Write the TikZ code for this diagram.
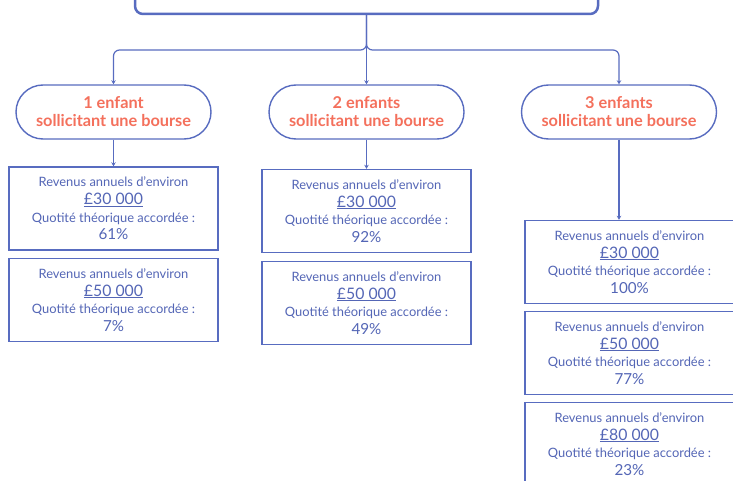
\documentclass[tikz,border=0pt]{standalone}
\usepackage{fontspec}
\setmainfont{Lato}
\usetikzlibrary{positioning,arrows.meta}
\definecolor{lineblue}{RGB}{88,108,192}
\definecolor{textblue}{RGB}{84,102,182}
\definecolor{salmon}{RGB}{244,112,92}
\tikzset{pill/.style={draw=lineblue, line width=1.4pt, rounded corners=27pt, minimum width=195pt, minimum height=54pt, align=center, text=salmon, font=\bfseries\fontsize{16.3}{18}\selectfont}, quota/.style={draw=lineblue, line width=1.4pt, minimum width=209pt, minimum height=83pt, align=center, text=textblue, font=\fontsize{12.9}{17.6}\selectfont}, link/.style={lineblue, line width=1.2pt, -{Stealth[length=4pt,width=4.5pt]}}}
\newcommand{\quotetext}[2]{Revenus annuels d’environ\\{\fontsize{15.8}{17.6}\selectfont\underline{£#1}}\\Quotité théorique accordée :\\{\fontsize{15.2}{17.6}\selectfont #2\%}}

\begin{document}
\begin{tikzpicture}[x=1pt,y=1pt]
  \clip (0,0) rectangle (733,-481);
  \fill[white] (0,0) rectangle (733,-481);
  % top box
  \node[draw=lineblue, line width=2.5pt, rounded corners=8pt, minimum width=463pt, minimum height=58pt] (top) at (366.5,15) {};
  \coordinate (split) at (366.5,-50);
  % one pill per family size
  \node[pill] (p1) at (113.5,-112) {1 enfant\\sollicitant une bourse};
  \node[pill] (p2) at (366.5,-112) {2 enfants\\sollicitant une bourse};
  \node[pill] (p3) at (619,-112) {3 enfants\\sollicitant une bourse};
  % boxes
  \node[quota] (c1a) at (113.5,-208.5) {\quotetext{30 000}{61}};
  \node[quota] (c1b) at (113.5,-300) {\quotetext{50 000}{7}};
  \node[quota] (c2a) at (366.5,-211) {\quotetext{30 000}{92}};
  \node[quota] (c2b) at (366.5,-303) {\quotetext{50 000}{49}};
  \node[quota] (c3a) at (629.5,-262) {\quotetext{30 000}{100}};
  \node[quota] (c3b) at (629.5,-353) {\quotetext{50 000}{77}};
  \node[quota] (c3c) at (629.5,-444) {\quotetext{80 000}{23}};
  % connectors
  \draw[link, rounded corners=6pt] (top.south) |- (p1.north |- split) -- (p1.north);
  \draw[link, rounded corners=6pt] (top.south) |- (p3.north |- split) -- (p3.north);
  \draw[link] (top.south) -- (p2.north);
  \draw[link] (p1) -- (c1a);
  \draw[link] (p2) -- (c2a);
  \draw[link] (p3) -- (p3 |- c3a.north);
\end{tikzpicture}
\end{document}
